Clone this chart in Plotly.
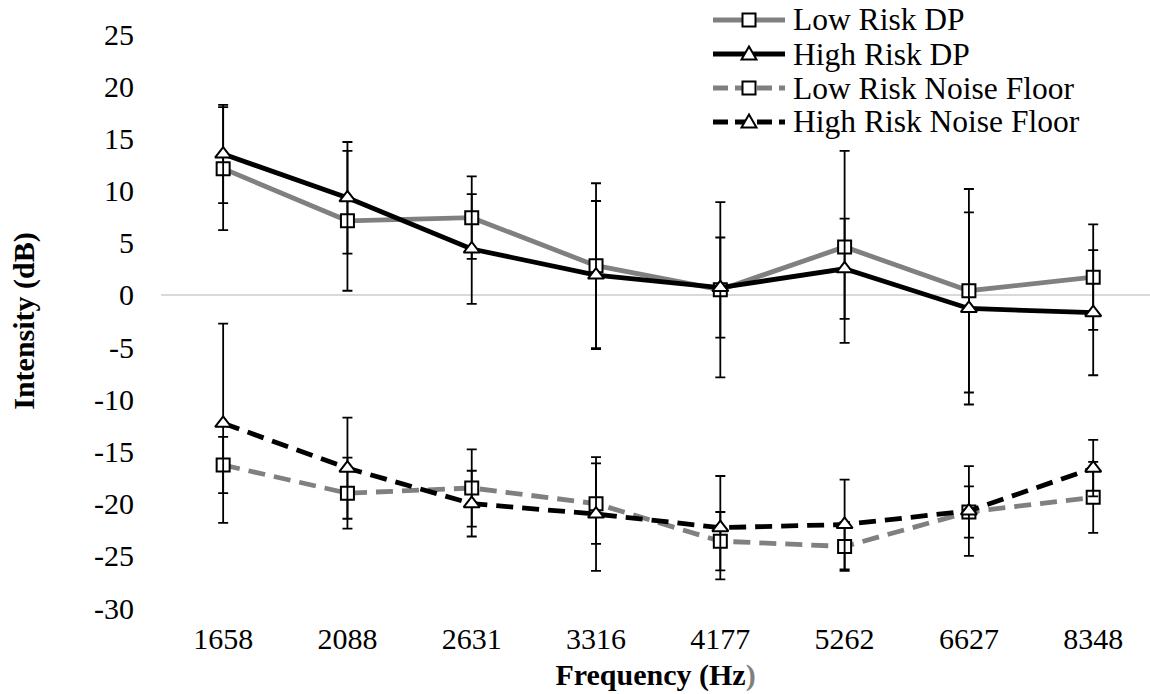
import plotly.graph_objects as go

# Test frequencies (Hz), used as categories on the x axis
frequencies = ["1658", "2088", "2631", "3316", "4177", "5262", "6627", "8348"]

# Distortion-product amplitudes (dB) with error-bar half widths
low_risk_dp = [12.1, 7.1, 7.4, 2.8, 0.5, 4.6, 0.4, 1.7]
low_risk_dp_err = [5.9, 6.7, 3.95, 7.9, 8.4, 9.2, 9.75, 5.05]
high_risk_dp = [13.5, 9.3, 4.4, 1.9, 0.7, 2.5, -1.3, -1.7]
high_risk_dp_err = [4.7, 5.35, 5.25, 7.1, 4.8, 4.8, 9.2, 6.0]

# Noise floor levels (dB) with error-bar half widths
low_risk_nf = [-16.3, -19.0, -18.5, -20.0, -23.6, -24.1, -20.8, -19.4]
low_risk_nf_err = [2.7, 3.4, 3.7, 3.85, 2.8, 2.35, 2.45, 3.4]
high_risk_nf = [-12.3, -16.6, -20.0, -21.0, -22.3, -22.0, -20.7, -16.6]
high_risk_nf_err = [9.55, 4.85, 3.15, 5.45, 4.95, 4.3, 4.3, 2.7]

y_ticks = [25, 20, 15, 10, 5, 0, -5, -10, -15, -20, -25, -30]

FONT = "Times New Roman, Liberation Serif, Tinos, DejaVu Serif, serif"
GRAY = "#808080"
BLACK = "#000000"
DASH = "17px,9px"

W, H = 1150, 694
M_L, M_R, M_T, M_B = 161, 0, 34, 86
PLOT_W = W - M_L - M_R
PLOT_H = H - M_T - M_B

series = [
    ("Low Risk DP", low_risk_dp, low_risk_dp_err, GRAY, "solid", "square", 13),
    ("High Risk DP", high_risk_dp, high_risk_dp_err, BLACK, "solid", "triangle-up", 14),
    ("Low Risk Noise Floor", low_risk_nf, low_risk_nf_err, GRAY, DASH, "square", 13),
    ("High Risk Noise Floor", high_risk_nf, high_risk_nf_err, BLACK, DASH, "triangle-up", 14),
]

fig = go.Figure()
for name, values, errs, color, dash, symbol, msize in series:
    fig.add_trace(go.Scatter(
        x=list(range(len(frequencies))),
        y=values,
        name=name,
        mode="lines+markers",
        line=dict(color=color, width=4.8, dash=dash),
        marker=dict(symbol=symbol, size=msize, color="white",
                    line=dict(color=BLACK, width=2)),
        error_y=dict(type="data", array=errs, visible=True,
                     color=BLACK, thickness=1.8, width=5),
        showlegend=False,
    ))


# ---- legend key drawn in the top-right corner (page pixel positions) ----
def px_x(px):
    return (px - M_L) / PLOT_W


def px_y(py):
    return 1 - (py - M_T) / PLOT_H


KEY_X0, KEY_X1, KEY_MID = 713, 785, 749
TEXT_X = 791
ROW_Y0, ROW_STEP = 20, 34
shapes = []
annotations = []
for i, (name, _v, _e, color, dash, symbol, _s) in enumerate(series):
    cy = ROW_Y0 + i * ROW_STEP
    line_dash = "solid" if dash == "solid" else "15px,7px"
    shapes.append(dict(
        type="line", xref="paper", yref="paper",
        x0=px_x(KEY_X0), x1=px_x(KEY_X1), y0=px_y(cy), y1=px_y(cy),
        line=dict(color=color, width=4.8, dash=line_dash), layer="above",
    ))
    if symbol == "square":
        h = 6.5
        shapes.append(dict(
            type="rect", xref="paper", yref="paper",
            x0=px_x(KEY_MID - h), x1=px_x(KEY_MID + h),
            y0=px_y(cy + h), y1=px_y(cy - h),
            fillcolor="white", line=dict(color=BLACK, width=2), layer="above",
        ))
    else:
        path = "M {} {} L {} {} L {} {} Z".format(
            px_x(KEY_MID), px_y(cy - 7.5),
            px_x(KEY_MID + 7.5), px_y(cy + 5.5),
            px_x(KEY_MID - 7.5), px_y(cy + 5.5),
        )
        shapes.append(dict(
            type="path", xref="paper", yref="paper", path=path,
            fillcolor="white", line=dict(color=BLACK, width=2), layer="above",
        ))
    annotations.append(dict(
        text=name, xref="paper", yref="paper",
        x=px_x(TEXT_X), y=px_y(cy), xanchor="left", yanchor="middle",
        showarrow=False, font=dict(family=FONT, size=31.5, color=BLACK),
    ))

fig.update_layout(
    width=W,
    height=H,
    margin=dict(l=M_L, r=M_R, t=M_T, b=M_B),
    paper_bgcolor="white",
    plot_bgcolor="white",
    font=dict(family=FONT, color=BLACK, size=30),
    showlegend=False,
    shapes=shapes,
    annotations=annotations,
    xaxis=dict(
        range=[-0.5, 7.457],
        tickmode="array",
        tickvals=list(range(len(frequencies))),
        ticktext=frequencies,
        showgrid=False,
        zeroline=False,
        showline=False,
        ticks="",
        ticklabelstandoff=10,
        tickfont=dict(family=FONT, size=30),
        title=dict(
            text="<b>Frequency (Hz</b><span style='color:#7f7f7f'><b>)</b></span>",
            font=dict(family=FONT, size=30),
            standoff=9,
        ),
    ),
    yaxis=dict(
        range=[-30, 25],
        tickmode="array",
        tickvals=y_ticks,
        ticktext=[str(v) for v in y_ticks],
        showgrid=False,
        zeroline=True,
        zerolinecolor="#d9d9d9",
        zerolinewidth=2,
        showline=False,
        ticks="",
        ticklabelstandoff=26,
        tickfont=dict(family=FONT, size=30),
        title=dict(
            text="<b>Intensity (dB)</b>",
            font=dict(family=FONT, size=30),
            standoff=50,
        ),
    ),
)

fig.write_html("out.html")
